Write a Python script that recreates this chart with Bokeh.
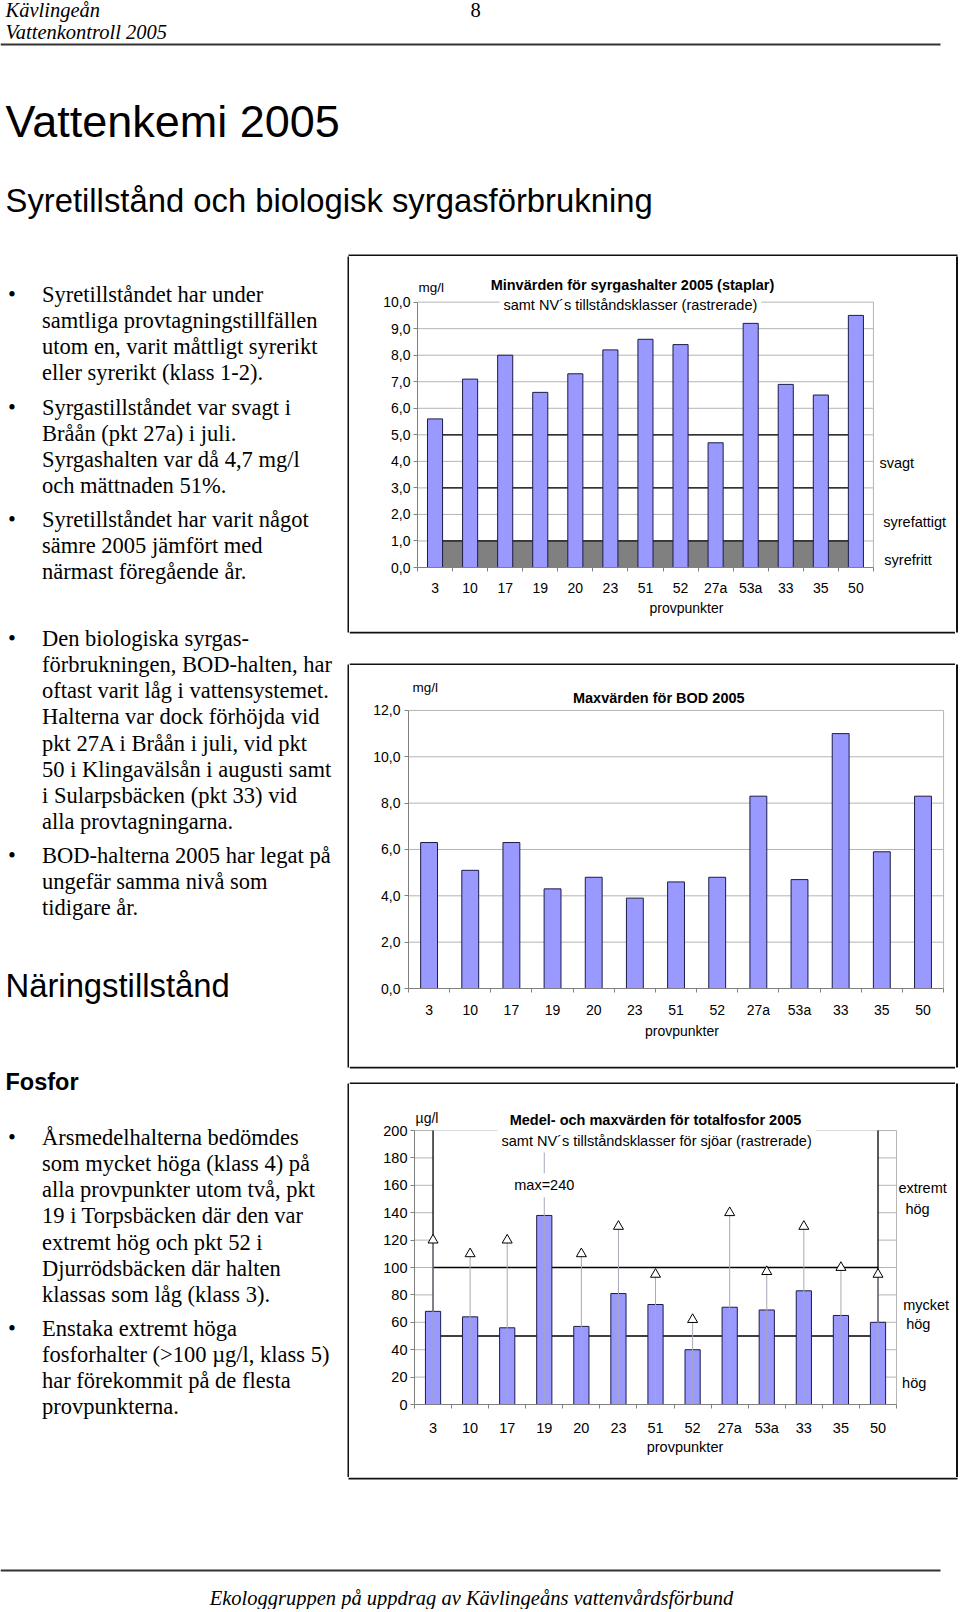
from bokeh.plotting import figure
from bokeh.layouts import column, row
from bokeh.models import Range1d, FixedTicker, Label
from bokeh.core.properties import value
from bokeh.embed import file_html
from bokeh.resources import INLINE

SANS = "Liberation Sans"
SERIF = "Liberation Serif"

# ---------------- data ----------------
points = ["3", "10", "17", "19", "20", "23", "51", "52", "27a", "53a", "33", "35", "50"]

o2_min = [5.6, 7.1, 8.0, 6.6, 7.3, 8.2, 8.6, 8.4, 4.7, 9.2, 6.9, 6.5, 9.5]
o2_class_bounds = [1, 3, 5]
o2_class_names = ["syrefritt", "syrefattigt", "svagt"]
o2_ticks = [0, 1, 2, 3, 4, 5, 6, 7, 8, 9, 10]
o2_tick_labels = ["0,0", "1,0", "2,0", "3,0", "4,0", "5,0", "6,0", "7,0", "8,0", "9,0", "10,0"]

bod_max = [6.3, 5.1, 6.3, 4.3, 4.8, 3.9, 4.6, 4.8, 8.3, 4.7, 11.0, 5.9, 8.3]
bod_ticks = [0, 2, 4, 6, 8, 10, 12]
bod_tick_labels = ["0,0", "2,0", "4,0", "6,0", "8,0", "10,0", "12,0"]

p_mean = [68, 64, 56, 138, 57, 81, 73, 40, 71, 69, 83, 65, 60]
p_max = [120, 110, 120, 240, 110, 130, 95, 62, 140, 97, 130, 100, 95]
p_class_bounds = [50, 100, 200]
p_ticks = [0, 20, 40, 60, 80, 100, 120, 140, 160, 180, 200]
p_tick_labels = ["0", "20", "40", "60", "80", "100", "120", "140", "160", "180", "200"]

xs = list(range(1, len(points) + 1))

BAR = "#9999ff"
BAR_LINE = "#1c1c48"
GRID = "#b4b4b4"
AXIS = "#808080"

LEFT_W = 349
CHART_W = 606
STRIP_W = 3
PAGE_W = LEFT_W + CHART_W + STRIP_W
HEADER_H = 256
MID_H = 1221
FOOTER_H = 132
# vertical extent (page px) of the three chart boxes
boxes = [(256, 631), (665, 1066), (1084, 1477)]


def chart(height, left, bottom, x_end, y_end, yticks, ylabels, fs, xstand, xlab_stand, ystand):
    p = figure(width=CHART_W, height=height,
               x_range=Range1d(0.5, x_end), y_range=Range1d(0, y_end),
               output_backend="svg", toolbar_location=None, frame_align=False,
               min_border_left=left, min_border_right=0,
               min_border_top=0, min_border_bottom=bottom)
    p.background_fill_color = "white"
    p.border_fill_color = "white"
    p.outline_line_color = None
    p.grid.visible = False

    x0, x1 = xs[0] - 0.5, xs[-1] + 0.5
    # plot-area grid and border
    p.segment(x0=[x0] * (len(yticks) - 1), y0=yticks[1:], x1=[x1] * (len(yticks) - 1),
              y1=yticks[1:], line_color=GRID, line_width=1)
    p.segment(x0=[x1], y0=[0], x1=[x1], y1=[yticks[-1]], line_color=GRID, line_width=1)

    xa = p.xaxis[0]
    xa.bounds = (x0, x1)
    xa.ticker = FixedTicker(ticks=xs, minor_ticks=[x - 0.5 for x in xs] + [x1])
    xa.major_label_overrides = {x: s for x, s in zip(xs, points)}
    xa.major_tick_line_color = None
    xa.major_tick_out = 0
    xa.major_tick_in = 0
    xa.minor_tick_in = 0
    xa.minor_tick_out = 4
    xa.minor_tick_line_color = AXIS
    xa.axis_line_color = AXIS
    xa.major_label_standoff = xstand
    xa.major_label_text_font = SANS
    xa.major_label_text_font_size = f"{fs}px"
    xa.major_label_text_color = "black"
    xa.axis_label = "provpunkter"
    xa.axis_label_text_font = SANS
    xa.axis_label_text_font_style = "normal"
    xa.axis_label_text_font_size = f"{fs}px"
    xa.axis_label_text_color = "black"
    xa.axis_label_standoff = xlab_stand

    ya = p.yaxis[0]
    ya.bounds = (yticks[0], yticks[-1])
    ya.ticker = FixedTicker(ticks=yticks)
    ya.major_label_overrides = {t: s for t, s in zip(yticks, ylabels)}
    ya.minor_tick_line_color = None
    ya.major_tick_in = 0
    ya.major_tick_out = 4
    ya.major_tick_line_color = AXIS
    ya.axis_line_color = AXIS
    ya.major_label_standoff = ystand
    ya.major_label_text_font = SANS
    ya.major_label_text_font_size = f"{fs}px"
    ya.major_label_text_color = "black"
    return p


def lab(p, x, y, text, size, bold=False, align="center", bg=None):
    kw = {}
    if bg is not None:
        kw = dict(background_fill_color=bg, padding=4)
    p.add_layout(Label(x=x, y=y, text=text, text_font=SANS, text_font_size=f"{size}px",
                       text_font_style="bold" if bold else "normal", text_align=align,
                       text_baseline="middle", text_color="black", **kw))


# ---------------- chart 1: oxygen minimum ----------------
c1 = chart(375, 68, 64, 15.84, 11.72, o2_ticks, o2_tick_labels, 14, 8, 1, 3)
c1.varea(x=xs, y1=[0] * len(xs), y2=[o2_class_bounds[0]] * len(xs), fill_color="#808080")
for b in o2_class_bounds:
    c1.line(x=xs, y=[b] * len(xs), line_color="black", line_width=1.3)
c1.vbar(x=xs, top=o2_min, width=0.43, fill_color=BAR, line_color=BAR_LINE, line_width=1)
lab(c1, 0.53, 10.55, "mg/l", 13.5, align="left")
lab(c1, 6.63, 10.63, "Minvärden för syrgashalter 2005 (staplar)", 14.5, bold=True)
lab(c1, 6.57, 9.91, "samt NV´s tillståndsklasser (rastrerade)", 14.5, bg="white")
lab(c1, 13.67, 3.92, o2_class_names[2], 14.5, align="left")
lab(c1, 13.78, 1.73, o2_class_names[1], 14.5, align="left")
lab(c1, 13.81, 0.30, o2_class_names[0], 14.5, align="left")

# ---------------- chart 2: BOD maximum ----------------
c2 = chart(401, 59, 78, 13.79, 13.94, bod_ticks, bod_tick_labels, 14, 9, 2, 4)
c2.vbar(x=xs, top=bod_max, width=0.41, fill_color=BAR, line_color=BAR_LINE, line_width=1)
lab(c2, 0.6, 12.99, "mg/l", 13.5, align="left")
lab(c2, 6.58, 12.52, "Maxvärden för BOD 2005", 14.5, bold=True)

# ---------------- chart 3: total phosphorus ----------------
c3 = chart(393, 65, 73, 15.09, 233.6, p_ticks, p_tick_labels, 14.5, 11, 0, 3)
top_p = p_class_bounds[-1]
c3.varea(x=xs, y1=[0] * len(xs), y2=[top_p] * len(xs), fill_color="white")
for b in p_class_bounds[:-1]:
    c3.line(x=xs, y=[b] * len(xs), line_color="black", line_width=1.3)
c3.segment(x0=[xs[0], xs[-1]], y0=[0, 0], x1=[xs[0], xs[-1]], y1=[top_p, top_p],
           line_color="black", line_width=1.3)
c3.vbar(x=xs, top=p_mean, width=0.41, fill_color=BAR, line_color=BAR_LINE, line_width=1)
c3.segment(x0=xs, y0=[0] * len(xs), x1=xs, y1=[min(v, p_ticks[-1]) for v in p_max],
           line_color="#a8a8b8", line_width=1)
on_scale = [(x, v) for x, v in zip(xs, p_max) if v <= p_ticks[-1]]
c3.scatter(x=[x for x, _ in on_scale], y=[v for _, v in on_scale], marker="triangle", size=10,
           fill_color="white", line_color="black", line_width=1)
lab(c3, 7.0, 208, "Medel- och maxvärden för totalfosfor 2005", 14.5, bold=True)
lab(c3, 7.03, 192.7, "samt NV´s tillståndsklasser för sjöar (rastrerade)", 14.5, bg="white")
for x, v in zip(xs, p_max):
    if v > p_ticks[-1]:
        lab(c3, x, 160, f"max={v}", 14.5, bg="white")
lab(c3, 0.53, 209.5, "µg/l", 14, align="left")
lab(c3, 13.55, 158.4, "extremt", 14.5, align="left")
lab(c3, 13.74, 143, "hög", 14.5, align="left")
lab(c3, 13.68, 72.3, "mycket", 14.5, align="left")
lab(c3, 13.76, 59.1, "hög", 14.5, align="left")
lab(c3, 13.65, 16, "hög", 14.5, align="left")


# ---------------- page text ----------------
def text_fig(w, h):
    f = figure(width=w, height=h, x_range=Range1d(0, w), y_range=Range1d(h, 0),
               output_backend="svg", toolbar_location=None, min_border=0, frame_align=False)
    f.axis.visible = False
    f.grid.visible = False
    f.outline_line_color = None
    f.background_fill_color = "white"
    f.border_fill_color = "white"
    return f


def txt(f, x, y, s, font, size, style="normal", align="left"):
    f.text(x=[x], y=[y], text=[s], text_font=value(font), text_font_size=f"{size}px",
           text_font_style=style, text_align=align, text_baseline="middle", text_color="black")


BOX_LINE = dict(line_color="#111111", line_width=2)

header = text_fig(PAGE_W, HEADER_H)
txt(header, 5, 9, "Kävlingeån", SERIF, 20.5, "italic")
txt(header, 5, 31, "Vattenkontroll 2005", SERIF, 20.5, "italic")
txt(header, 470, 9, "8", SERIF, 20.5)
header.line(x=[0, 940], y=[44, 44], line_color="#333333", line_width=2)
txt(header, 5, 121, "Vattenkemi 2005", SANS, 45)
txt(header, 5, 200, "Syretillstånd och biologisk syrgasförbrukning", SANS, 32.8)
header.line(x=[LEFT_W - 1, PAGE_W - 1], y=[HEADER_H - 1, HEADER_H - 1], **BOX_LINE)

paragraphs = [
    (294, ["Syretillståndet har under", "samtliga provtagningstillfällen",
           "utom en, varit måttligt syrerikt", "eller syrerikt (klass 1-2)."]),
    (407, ["Syrgastillståndet var svagt i", "Bråån (pkt 27a) i juli.",
           "Syrgashalten var då 4,7 mg/l", "och mättnaden 51%."]),
    (519, ["Syretillståndet har varit något", "sämre 2005 jämfört med",
           "närmast föregående år."]),
    (638, ["Den biologiska syrgas-", "förbrukningen, BOD-halten, har",
           "oftast varit låg i vattensystemet.", "Halterna var dock förhöjda vid",
           "pkt 27A i Bråån i juli, vid pkt", "50 i Klingavälsån i augusti samt",
           "i Sularpsbäcken (pkt 33) vid", "alla provtagningarna."]),
    (855, ["BOD-halterna 2005 har legat på", "ungefär samma nivå som", "tidigare år."]),
    (1137, ["Årsmedelhalterna bedömdes", "som mycket höga (klass 4) på",
            "alla provpunkter utom två, pkt", "19 i Torpsbäcken där den var",
            "extremt hög och pkt 52 i", "Djurrödsbäcken där halten",
            "klassas som låg (klass 3)."]),
    (1328, ["Enstaka extremt höga", "fosforhalter (>100 µg/l, klass 5)",
            "har förekommit på de flesta", "provpunkterna."]),
]

TOP = HEADER_H
left = text_fig(LEFT_W, MID_H)
for y0, lines in paragraphs:
    y = y0 - TOP
    txt(left, 11.5, y, "•", SERIF, 22.5, align="center")
    for i, s in enumerate(lines):
        txt(left, 41.5, y + i * 26.15, s, SERIF, 22.5)
txt(left, 5, 985 - TOP, "Näringstillstånd", SANS, 32.8)
txt(left, 5, 1081 - TOP, "Fosfor", SANS, 23.5, "bold")
for b0, b1 in boxes:
    left.line(x=[LEFT_W - 1, LEFT_W - 1], y=[b0 - TOP - 1, b1 - TOP + 1], **BOX_LINE)

strip = text_fig(STRIP_W, MID_H)
for b0, b1 in boxes:
    strip.line(x=[1.5, 1.5], y=[b0 - TOP - 1, b1 - TOP + 1], **BOX_LINE)

gap1 = text_fig(CHART_W, boxes[1][0] - boxes[0][1])
gap1.line(x=[0, CHART_W], y=[1, 1], **BOX_LINE)
gap1.line(x=[0, CHART_W], y=[gap1.height - 1, gap1.height - 1], **BOX_LINE)
gap2 = text_fig(CHART_W, boxes[2][0] - boxes[1][1])
gap2.line(x=[0, CHART_W], y=[1, 1], **BOX_LINE)
gap2.line(x=[0, CHART_W], y=[gap2.height - 1, gap2.height - 1], **BOX_LINE)

footer = text_fig(PAGE_W, FOOTER_H)
footer.line(x=[LEFT_W - 1, PAGE_W - 1], y=[1, 1], **BOX_LINE)
footer.line(x=[0, 940], y=[93, 93], line_color="#333333", line_width=2)
txt(footer, 471, 120, "Ekologgruppen på uppdrag av Kävlingeåns vattenvårdsförbund",
    SERIF, 20.5, "italic", align="center")

charts = column(c1, gap1, c2, gap2, c3)
page = column(header, row(left, charts, strip), footer)

open("out.html", "w").write(file_html(page, INLINE))
